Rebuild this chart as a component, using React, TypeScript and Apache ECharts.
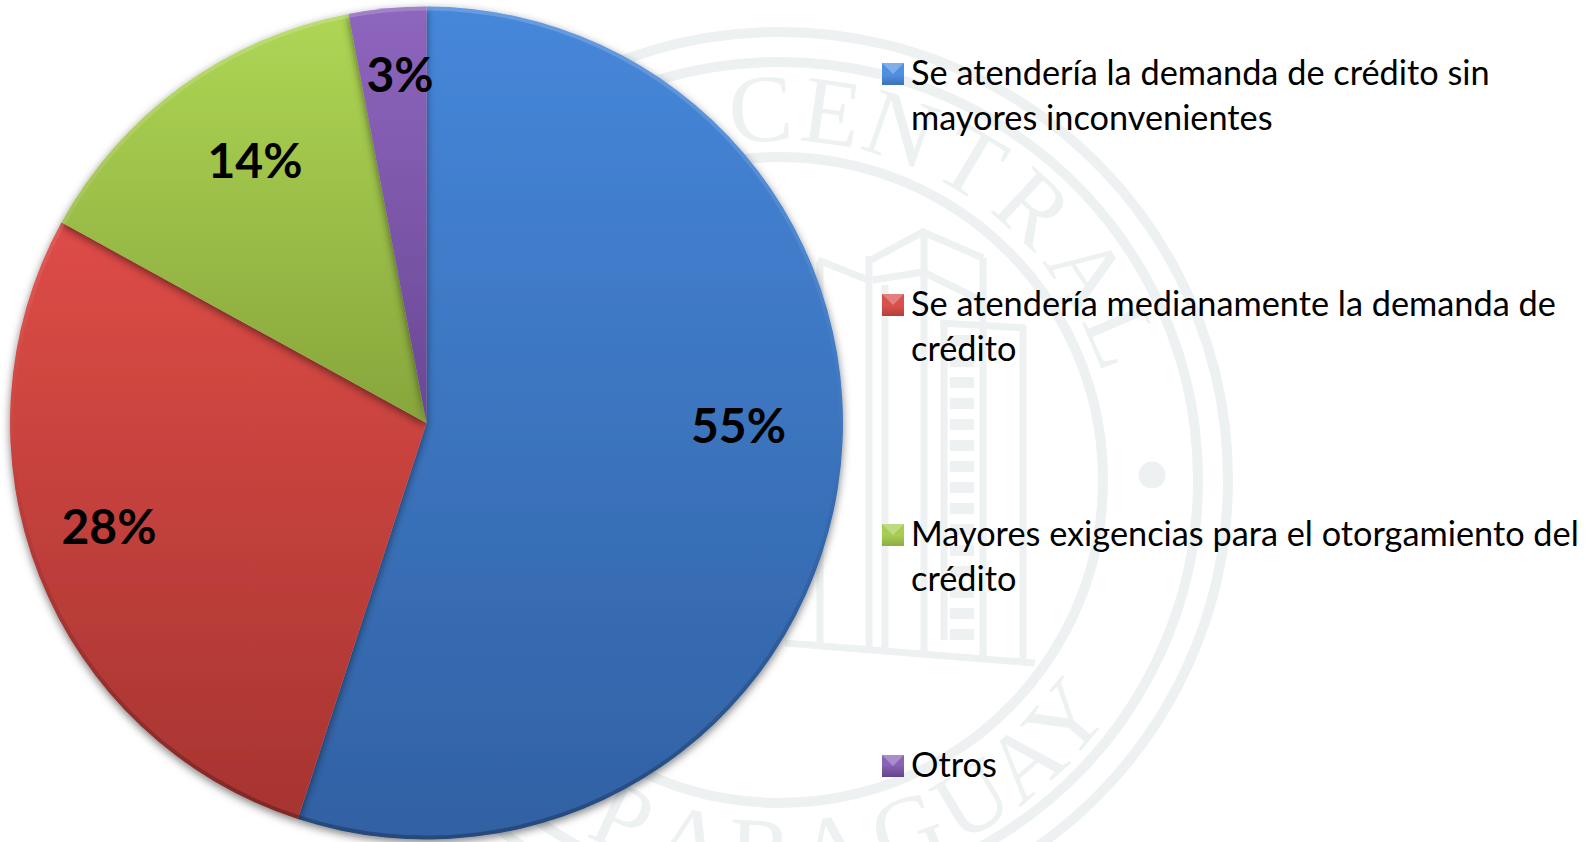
import React, { useEffect, useRef } from "react";
import * as echarts from "echarts";

const categories = [
  "Se atendería la demanda de crédito sin\nmayores inconvenientes",
  "Se atendería medianamente la demanda de\ncrédito",
  "Mayores exigencias para el otorgamiento del\ncrédito",
  "Otros",
];
const values = [55, 28, 14, 3];

const PIE_CX = 426.5;
const PIE_CY = 423;
const PIE_R = 416.5;
const FONT = "Lato, 'Noto Sans', sans-serif";

const sliceGradients = [
  { y1: 6, y2: 840, top: "#4687da", bottom: "#3161a3" },
  { y1: 220, y2: 820, top: "#de4c47", bottom: "#a63431" },
  { y1: 15, y2: 425, top: "#aed654", bottom: "#87a53c" },
  { y1: 6, y2: 425, top: "#8e66be", bottom: "#6a4794" },
];
const labelCentres = [
  [738.5, 424],
  [109, 525],
  [255, 159],
  [400, 73],
];
const swatchColours = [
  ["#4f8fdf", "#2c5a96"],
  ["#d9504c", "#94302c"],
  ["#a6cc52", "#76923a"],
  ["#8a63b6", "#5a3d80"],
];
const legendTops = [49, 280, 510, 741];
const swatchTops = [63, 294, 524, 755];
const legendHeights = [90, 90, 90, 45];

const SEAL = "#edf1f1";
const SEAL_X = 780;
const SEAL_Y = 480;
const sealRings = [448, 418, 323];
const topLetters: [string, number][] = [
  ["C", -3], ["E", 8], ["N", 19], ["T", 31], ["R", 43], ["A", 56], ["L", 67],
];
const bottomLetters: [string, number][] = [
  ["P", -25], ["A", -14], ["R", -3], ["A", 8], ["G", 20], ["U", 31], ["A", 41], ["Y", 50],
];
const buildingLines: number[][][] = [
  [[867, 262], [923, 232], [983, 258]],
  [[818, 260], [868, 280]],
  [[873, 280], [923, 272], [980, 300]],
  [[940, 323], [1025, 328]],
  [[785, 643], [1035, 663]],
  [[869, 256], [869, 650]],
  [[885, 285], [885, 651]],
  [[924, 234], [924, 654]],
  [[983, 258], [983, 658]],
  [[1023, 326], [1023, 662]],
  [[944, 323], [944, 640]],
  [[820, 262], [820, 645]],
];
const ladderRungs = [
  335, 356, 377, 398, 419, 440, 461, 482, 503, 524, 545, 566, 587, 608, 629,
];

function sealGraphics(): any[] {
  const out: any[] = [];
  const lineStyle = { stroke: SEAL, lineWidth: 7, fill: "none" };
  sealRings.forEach((r) => {
    out.push({
      type: "circle",
      z: -10,
      silent: true,
      shape: { cx: SEAL_X, cy: SEAL_Y, r },
      style: { stroke: SEAL, lineWidth: 10, fill: "none" },
    });
  });
  out.push({
    type: "circle",
    z: -10,
    silent: true,
    shape: { cx: 1152, cy: 475, r: 13.5 },
    style: { fill: SEAL },
  });
  buildingLines.forEach((points) => {
    out.push({
      type: "polyline",
      z: -10,
      silent: true,
      shape: { points },
      style: lineStyle,
    });
  });
  ladderRungs.forEach((y) => {
    out.push({
      type: "rect",
      z: -10,
      silent: true,
      shape: { x: 950, y, width: 24, height: 11 },
      style: { fill: SEAL },
    });
  });
  const letter = (ch: string, deg: number, bottom: boolean) => {
    const a = (deg * Math.PI) / 180;
    const r = 372;
    return {
      type: "text",
      z: -10,
      silent: true,
      x: SEAL_X + r * Math.sin(a),
      y: bottom ? SEAL_Y + r * Math.cos(a) : SEAL_Y - r * Math.cos(a),
      rotation: bottom ? a : -a,
      style: {
        text: ch,
        fill: SEAL,
        fontFamily: "'Liberation Serif', serif",
        fontSize: 96,
        align: "center",
        verticalAlign: "middle",
      },
    };
  };
  topLetters.forEach(([c, d]) => out.push(letter(c, d, false)));
  bottomLetters.forEach(([c, d]) => out.push(letter(c, d, true)));
  return out;
}

function swatchBevels(): any[] {
  return swatchTops.map((y) => ({
    type: "polygon",
    z: 20,
    silent: true,
    shape: { points: [[882, y], [904, y], [893, y + 11]] },
    style: { fill: "rgba(255,255,255,0.28)" },
  }));
}

const vGrad = (y1: number, y2: number, top: string, bottom: string) =>
  new echarts.graphic.LinearGradient(0, y1, 0, y2, [
    { offset: 0, color: top },
    { offset: 1, color: bottom },
  ], true);

export default function App() {
  const ref = useRef<HTMLDivElement>(null);
  useEffect(() => {
    const chart = echarts.init(ref.current!, null, { renderer: "svg" });
    const legends = categories.map((name, i) => {
      const h = legendHeights[i];
      return {
        left: 882,
        top: legendTops[i],
        orient: "vertical",
        padding: 0,
        itemWidth: 24,
        itemHeight: h,
        selectedMode: false,
        data: [
          {
            name,
            icon: `path://M0 14H22V36H0ZM0 0L0 0M24 ${h}L24 ${h}`,
            itemStyle: {
              color: new echarts.graphic.LinearGradient(0, 14 / h, 0, 36 / h, [
                { offset: 0, color: swatchColours[i][0] },
                { offset: 1, color: swatchColours[i][1] },
              ]),
            },
          },
        ],
        textStyle: {
          fontFamily: FONT,
          fontSize: 34.3,
          color: "#000",
          lineHeight: 45,
        },
      };
    });
    chart.setOption({
      animation: false,
      backgroundColor: "#fff",
      legend: legends,
      graphic: { elements: [...sealGraphics(), ...swatchBevels()] },
      series: [
        {
          type: "pie",
          center: [PIE_CX, PIE_CY],
          radius: [0, PIE_R],
          startAngle: 90,
          clockwise: true,
          avoidLabelOverlap: false,
          silent: true,
          labelLine: { show: false },
          data: categories.map((name, i) => ({
            name,
            value: values[i],
            itemStyle: {
              color: vGrad(
                sliceGradients[i].y1,
                sliceGradients[i].y2,
                sliceGradients[i].top,
                sliceGradients[i].bottom,
              ),
              shadowColor: "rgba(0,0,0,0.5)",
              shadowBlur: 8,
              shadowOffsetY: 3,
            },
          })),
          label: {
            show: true,
            position: "inside",
            formatter: "{c}%",
            fontFamily: FONT,
            fontWeight: "bold",
            fontSize: 48,
            color: "#000",
          },
          labelLayout: (params: any) => ({
            x: labelCentres[params.dataIndex][0],
            y: labelCentres[params.dataIndex][1],
            align: "center",
            verticalAlign: "middle",
          }),
        },
        {
          type: "pie",
          center: [PIE_CX, PIE_CY],
          radius: [PIE_R - 4, PIE_R],
          startAngle: 90,
          clockwise: true,
          silent: true,
          label: { show: false },
          labelLine: { show: false },
          legendHoverLink: false,
          data: categories.map((name, i) => ({
            name: name,
            value: values[i],
            itemStyle: {
              color: new echarts.graphic.LinearGradient(0, 6, 0, 840, [
                { offset: 0, color: "rgba(255,255,255,0.18)" },
                { offset: 0.45, color: "rgba(255,255,255,0.02)" },
                { offset: 0.6, color: "rgba(0,0,0,0.05)" },
                { offset: 1, color: "rgba(0,0,0,0.25)" },
              ], true),
            },
          })),
        },
      ],
    });
    return () => chart.dispose();
  }, []);
  return (
    <div
      ref={ref}
      style={{ position: "absolute", left: 0, top: 0, width: 1595, height: 842 }}
    />
  );
}
